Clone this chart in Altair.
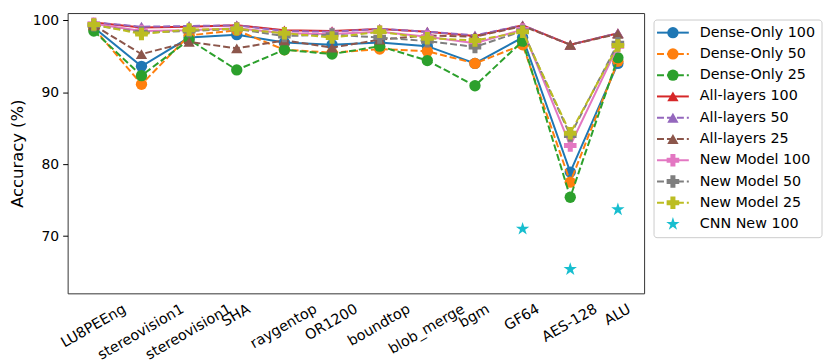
import altair as alt
import pandas as pd

categories = ["LU8PEEng", "stereovision1", "stereovision1", "SHA", "raygentop", "OR1200",
              "boundtop", "blob_merge", "bgm", "GF64", "AES-128", "ALU"]

series_names = ["Dense-Only 100", "Dense-Only 50", "Dense-Only 25",
                "All-layers 100", "All-layers 50", "All-layers 25",
                "New Model 100", "New Model 50", "New Model 25", "CNN New 100"]

dense100 = [99.0, 93.6, 97.6, 98.0, 96.9, 96.6, 96.9, 96.4, 94.0, 97.6, 78.9, 94.0]
dense50 = [98.9, 91.1, 97.9, 98.6, 95.9, 95.5, 96.0, 95.7, 94.0, 96.6, 77.5, 94.3]
dense25 = [98.5, 92.3, 97.3, 93.1, 95.9, 95.3, 96.4, 94.4, 90.9, 97.1, 75.4, 94.8]
all100 = [99.7, 99.0, 99.1, 99.3, 98.6, 98.5, 98.8, 98.4, 97.8, 99.3, 96.6, 98.2]
all50 = [99.7, 99.1, 99.2, 99.3, 98.5, 98.4, 98.8, 98.4, 97.9, 99.3, 96.6, 98.2]
all25 = [99.3, 95.3, 97.0, 96.1, 97.2, 96.2, 97.3, 97.9, 97.7, 99.2, 96.6, 98.1]
new100 = [99.5, 98.5, 98.6, 98.9, 98.2, 98.1, 98.4, 97.7, 96.8, 98.7, 82.6, 96.4]
new50 = [99.3, 98.3, 98.5, 98.8, 97.8, 98.0, 97.6, 97.1, 96.3, 98.5, 84.0, 96.8]
new25 = [99.4, 98.1, 98.7, 98.8, 98.2, 97.6, 98.4, 97.5, 97.2, 98.4, 84.3, 96.5]
cnn100 = [None, None, None, None, None, None, None, None, None, 71.0, 65.4, 73.7]

all_values = [dense100, dense50, dense25, all100, all50, all25, new100, new50, new25, cnn100]

STAR = ("M0,-1L0.2245,-0.309L0.951,-0.309L0.363,0.118L0.588,0.809L0,0.382"
        "L-0.588,0.809L-0.363,0.118L-0.951,-0.309L-0.2245,-0.309Z")

colors = ["#1f77b4", "#ff7f0e", "#2ca02c", "#d62728", "#9467bd", "#8c564b",
          "#e377c2", "#7f7f7f", "#bcbd22", "#17becf"]
shapes = ["circle"] * 3 + ["triangle-up"] * 3 + ["cross"] * 3 + [STAR]
dashed = [False, True, True] * 3 + [False]
has_line = [True] * 9 + [False]
sizes = [130] * 3 + [130] * 3 + [160] * 3 + [200]

W, H = 580, 282
XMIN, XMAX = -0.55, 11.55
FS = 14
FSX = 14.5

rows = []
for name, vals in zip(series_names, all_values):
    for i, v in enumerate(vals):
        if v is not None:
            rows.append({"series": name, "idx": i, "acc": v})
df = pd.DataFrame(rows)

# approximate DejaVu Sans advance widths (em) -> shift so each rotated label box is centred on its tick
cw = {"A": .684, "E": .632, "F": .575, "G": .775, "H": .752, "L": .557, "O": .787, "P": .603,
      "R": .695, "S": .635, "U": .732, "a": .613, "b": .635, "d": .635, "e": .615, "g": .635,
      "i": .278, "l": .278, "m": .974, "n": .634, "o": .612, "p": .635, "r": .411, "s": .521,
      "t": .392, "u": .634, "v": .592, "y": .592, "_": .5, "-": .361}
shift_px = [0.433 * sum(cw.get(ch, .636) for ch in c) * FSX - 0.25 * FSX * 1.1 for c in categories]
lab_df = pd.DataFrame({"idx": list(range(len(categories))), "label": categories, "shift": shift_px})

xscale = alt.Scale(domain=[XMIN, XMAX], nice=False, zero=False)
yscale = alt.Scale(domain=[62.05, 101.0], nice=False, zero=False)

x_enc = alt.X("idx:Q", scale=xscale,
              axis=alt.Axis(values=list(range(12)), labels=False, title=None, grid=False,
                            domain=False, tickSize=5, tickColor="black"))
y_enc = alt.Y("acc:Q", scale=yscale,
              axis=alt.Axis(values=[70, 80, 90, 100], title="Accuracy (%)", titleFontSize=16.5,
                            titleFontWeight="normal", titleColor="black", titlePadding=7,
                            labelFontSize=FS, labelColor="black", tickColor="black",
                            tickSize=5, labelPadding=4, grid=False, domain=False))

layers = []
for k, name in enumerate(series_names):
    base = alt.Chart(df).transform_filter(alt.datum.series == name)
    if has_line[k]:
        lk = dict(color=colors[k], strokeWidth=2)
        if dashed[k]:
            lk["strokeDash"] = [7, 3]
        layers.append(base.mark_line(**lk).encode(x=x_enc, y=y_enc))
    layers.append(base.mark_point(shape=shapes[k], filled=True, size=sizes[k], opacity=1,
                                  color=colors[k]).encode(x=x_enc, y=y_enc))

ppu = W / (XMAX - XMIN)
labels = alt.Chart(lab_df).transform_calculate(
    xl="datum.idx + datum.shift / %f" % ppu
).mark_text(angle=330, align="right", baseline="top", fontSize=FSX, color="black").encode(
    x=alt.X("xl:Q", scale=xscale, axis=None), y=alt.value(H + 9), text="label:N")
layers.append(labels)

main = alt.layer(*layers).properties(
    width=W, height=H, view=alt.ViewBackground(stroke="#333333", strokeWidth=1))

# legend panel (matplotlib-style: line + marker + label)
leg_df = pd.DataFrame({"series": series_names, "row": list(range(len(series_names)))})
leg_scale = alt.Scale(domain=[-0.9206, 12.257], reverse=True, nice=False, zero=False)
ly = alt.Y("row:Q", scale=leg_scale, axis=None)

leg_layers = [
    alt.Chart(pd.DataFrame({"a": [0]})).mark_rect(
        fill="white", stroke="#cccccc", strokeWidth=1, cornerRadius=3).encode(
        x=alt.value(0), x2=alt.value(169), y=alt.value(7), y2=alt.value(226))
]
for k, name in enumerate(series_names):
    base = alt.Chart(leg_df).transform_filter(alt.datum.series == name)
    if has_line[k]:
        lk = dict(color=colors[k], strokeWidth=2)
        if dashed[k]:
            lk["strokeDash"] = [7, 3]
        leg_layers.append(base.mark_rule(**lk).encode(x=alt.value(3), x2=alt.value(35), y=ly))
    leg_layers.append(base.mark_point(shape=shapes[k], filled=True, size=sizes[k], opacity=1,
                                      color=colors[k]).encode(x=alt.value(19), y=ly))
leg_layers.append(alt.Chart(leg_df).mark_text(align="left", baseline="middle", fontSize=14.4,
                                              color="black").encode(
    x=alt.value(46), y=ly, text="series:N"))

legend = alt.layer(*leg_layers).properties(
    width=169, height=H, view=alt.ViewBackground(strokeWidth=0))

chart = alt.hconcat(main, legend, spacing=8).properties(
    padding={"left": 0, "top": 3, "right": 0, "bottom": 0}
).configure(font="DejaVu Sans")

chart.save("out.html", embed_options={"renderer": "svg", "actions": False})
